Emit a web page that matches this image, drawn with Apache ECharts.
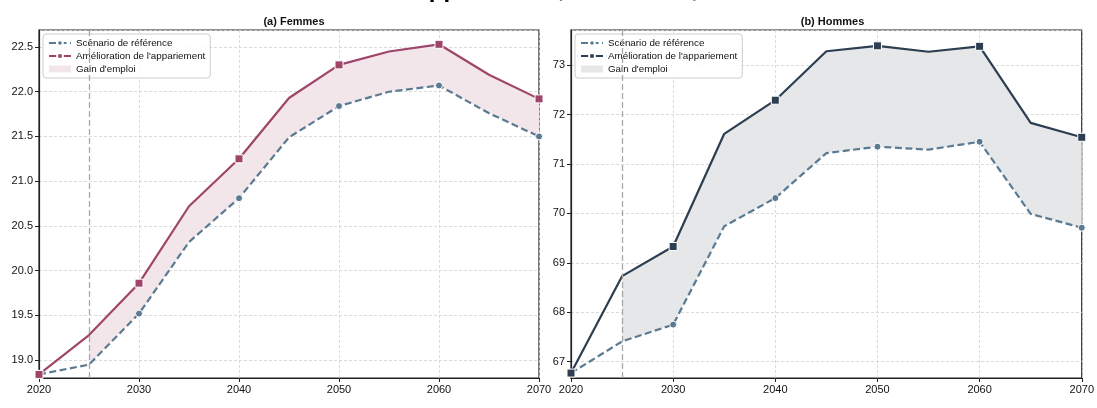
<!DOCTYPE html>
<html>
<head>
<meta charset="utf-8">
<script src="https://cdn.jsdelivr.net/npm/echarts@6/dist/echarts.min.js"></script>
<style>
html,body{margin:0;padding:0;background:#fff;}
#chart{width:1097px;height:408px;}
</style>
</head>
<body>
<div id="chart"></div>
<script>
const years = [2020, 2025, 2030, 2035, 2040, 2045, 2050, 2055, 2060, 2065, 2070];
const femmesRef  = [18.84, 18.95, 19.52, 20.32, 20.81, 21.49, 21.84, 22.00, 22.07, 21.76, 21.50];
const femmesAmel = [18.84, 19.28, 19.86, 20.72, 21.25, 21.93, 22.30, 22.45, 22.53, 22.19, 21.92];
const hommesRef  = [66.77, 67.41, 67.75, 69.74, 70.31, 71.22, 71.35, 71.29, 71.45, 69.99, 69.71];
const hommesAmel = [66.77, 68.73, 69.33, 71.61, 72.29, 73.28, 73.39, 73.27, 73.38, 71.83, 71.54];
const startYear = 2025;
const subTitles = ['(a) Femmes', '(b) Hommes'];
const mainTitle = "Amélioration de l'appariement, 2020–2070, selon le sexe";
const names = ['Scénario de référence', "Amélioration de l'appariement", "Gain d'emploi"];

const FONT = '"Liberation Sans", Arial, sans-serif';
const refColor = '#5a7a92';
const panels = [
  {ref: femmesRef, amel: femmesAmel, amelColor: '#9e4569', fill: '#f3e6eb',
   min: 18.80, max: 22.69, step: 0.5, dec: 1, suffix: ''},
  {ref: hommesRef, amel: hommesAmel, amelColor: '#2c3e50', fill: '#e6e7e9',
   min: 66.67, max: 73.71, step: 1, dec: 0, suffix: '\u200b'}
];

const pairs = (arr) => years.map((y, i) => [y, arr[i]]);
const bandRows = (ref, amel) => years.map((y, i) => [y, ref[i], amel[i]]).filter(r => r[0] >= startYear);
const markEvery = (size) => (v, p) => (p.dataIndex % 2 === 0 ? size : 0);

const grids = [
  {left: 39, top: 30, width: 500, height: 348},
  {left: 571, top: 30, width: 513, height: 348}
];

const xAxes = [], yAxes = [], series = [], legends = [], titles = [];
titles.push({text: mainTitle, left: 210, top: -27,
  textStyle: {fontFamily: FONT, fontSize: 24, fontWeight: 'bold', color: '#000'}});

panels.forEach((p, k) => {
  const g = grids[k];
  titles.push({text: subTitles[k], left: g.left + g.width / 2, top: 11, textAlign: 'center',
    textStyle: {fontFamily: FONT, fontSize: 11, fontWeight: 'bold', color: '#111'}});
  xAxes.push({type: 'value', gridIndex: k, min: 2020, max: 2070, interval: 10,
    axisLine: {show: true, onZero: false, lineStyle: {color: '#222', width: 1.2}},
    axisTick: {show: true, length: 4, lineStyle: {color: '#222'}},
    axisLabel: {color: '#111', fontFamily: FONT, fontSize: 11, margin: 6, formatter: v => String(v)},
    splitLine: {show: true, lineStyle: {color: '#d2d2d2', type: [3, 2], width: 0.8}}});
  yAxes.push({type: 'value', gridIndex: k, min: p.min, max: p.max,
    minInterval: p.step, maxInterval: p.step, splitNumber: 8,
    axisLine: {show: true, onZero: false, lineStyle: {color: '#222', width: 1.2}},
    axisTick: {show: true, length: 4, lineStyle: {color: '#222'}},
    axisLabel: {color: '#111', fontFamily: FONT, fontSize: 11, margin: 6, showMinLabel: false, showMaxLabel: false,
      formatter: v => v.toFixed(p.dec)},
    splitLine: {show: true, lineStyle: {color: '#d2d2d2', type: [3, 2], width: 0.8}}});

  const rows = bandRows(p.ref, p.amel);
  series.push({name: names[2] + p.suffix, type: 'custom', xAxisIndex: k, yAxisIndex: k,
    data: rows, silent: true, z: 1, clip: true,
    itemStyle: {color: p.fill},
    encode: {x: 0, y: [1, 2]},
    renderItem: (params, api) => {
      if (params.dataIndex !== 0) return null;
      const upper = rows.map(r => api.coord([r[0], r[2]]));
      const lower = rows.map(r => api.coord([r[0], r[1]])).reverse();
      return {type: 'polygon', shape: {points: upper.concat(lower)},
        style: {fill: p.fill, stroke: null}};
    }});
  series.push({name: names[0] + p.suffix, type: 'line', xAxisIndex: k, yAxisIndex: k,
    data: pairs(p.ref), symbol: 'circle', symbolSize: markEvery(7), showAllSymbol: true,
    itemStyle: {color: refColor, borderColor: '#fff', borderWidth: 1},
    lineStyle: {color: refColor, width: 2.2, type: [7, 3.5]}, z: 3,
    markLine: {silent: true, symbol: 'none', label: {show: false},
      lineStyle: {color: '#a8a8a8', type: [6, 3], width: 1.3},
      data: [{xAxis: startYear}]}});
  series.push({name: names[1] + p.suffix, type: 'line', xAxisIndex: k, yAxisIndex: k,
    data: pairs(p.amel), symbol: 'rect', symbolSize: markEvery(8), showAllSymbol: true,
    itemStyle: {color: p.amelColor, borderColor: '#fff', borderWidth: 1},
    lineStyle: {color: p.amelColor, width: 2.2}, z: 4});

  legends.push({orient: 'vertical', left: g.left + 4, top: 34,
    data: [{name: names[0] + p.suffix}, {name: names[1] + p.suffix}, {name: names[2] + p.suffix, icon: 'rect'}],
    itemWidth: 22, itemHeight: 7, itemGap: 3, padding: [4, 5, 4, 5],
    backgroundColor: 'rgba(255,255,255,0.85)', borderColor: '#cccccc', borderWidth: 1, borderRadius: 3,
    selectedMode: false,
    textStyle: {fontFamily: FONT, fontSize: 9.8, color: '#111', lineHeight: 10},
    formatter: n => n.replace('\u200b', '')});
});

const chart = echarts.init(document.getElementById('chart'), null, {renderer: 'canvas'});
chart.setOption({
  animation: false,
  backgroundColor: '#fff',
  title: titles,
  grid: grids.map(g => Object.assign({show: true, borderColor: '#222', borderWidth: 1.2, backgroundColor: 'transparent'}, g)),
  xAxis: xAxes,
  yAxis: yAxes,
  legend: legends,
  series: series
});
</script>
</body>
</html>
